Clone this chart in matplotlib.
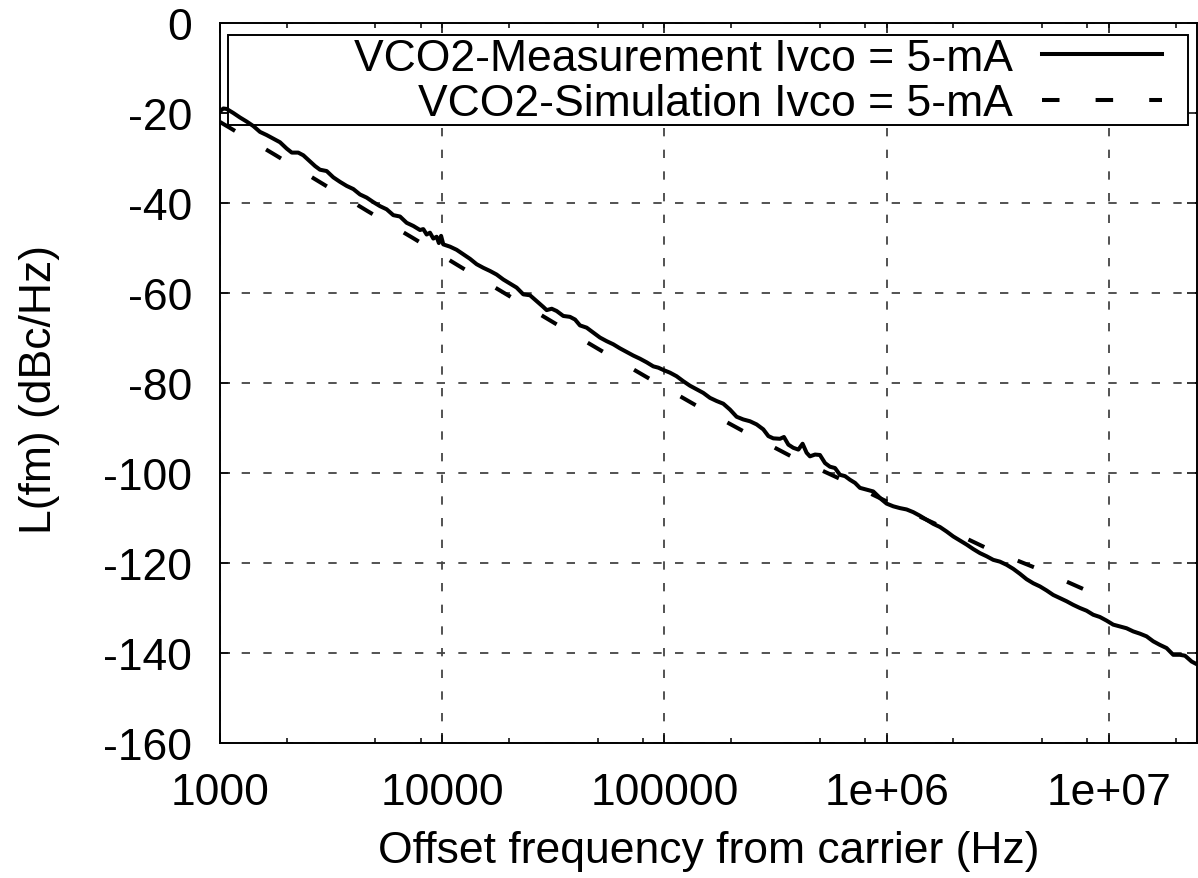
import numpy as np
import matplotlib.pyplot as plt
from matplotlib.ticker import FixedLocator, NullFormatter
from matplotlib.patches import Rectangle

plt.rcParams['font.family'] = ['Liberation Sans', 'DejaVu Sans']
plt.rcParams['axes.unicode_minus'] = False
plt.rcParams['lines.scale_dashes'] = False

# measured phase noise, offset given as log10(Hz)
meas_logf = [3.000, 3.015, 3.030, 3.060, 3.090, 3.120, 3.150, 3.180, 3.210, 3.240,
             3.270, 3.300, 3.323, 3.352, 3.375, 3.397, 3.428, 3.450, 3.480, 3.510,
             3.540, 3.570, 3.600, 3.630, 3.660, 3.690, 3.720, 3.750, 3.780, 3.810,
             3.840, 3.870, 3.900, 3.915, 3.930, 3.945, 3.960, 3.975, 3.985, 3.995,
             4.005, 4.035, 4.065, 4.095, 4.125, 4.155, 4.185, 4.215, 4.245, 4.275,
             4.305, 4.335, 4.365, 4.395, 4.425, 4.455, 4.470, 4.493, 4.515, 4.545,
             4.575, 4.598, 4.620, 4.650, 4.680, 4.710, 4.740, 4.770, 4.800, 4.830,
             4.860, 4.890, 4.920, 4.950, 4.973, 4.995, 5.025, 5.055, 5.085, 5.115,
             5.145, 5.175, 5.205, 5.235, 5.265, 5.295, 5.325, 5.355, 5.385, 5.415,
             5.445, 5.468, 5.490, 5.520, 5.538, 5.558, 5.580, 5.603, 5.622, 5.640,
             5.655, 5.678, 5.700, 5.723, 5.745, 5.768, 5.790, 5.813, 5.835, 5.858,
             5.880, 5.910, 5.940, 5.963, 5.978, 6.000, 6.030, 6.060, 6.090, 6.120,
             6.150, 6.180, 6.210, 6.240, 6.270, 6.300, 6.330, 6.360, 6.390, 6.420,
             6.450, 6.480, 6.510, 6.540, 6.570, 6.600, 6.630, 6.660, 6.690, 6.720,
             6.750, 6.780, 6.810, 6.840, 6.870, 6.900, 6.930, 6.960, 6.990, 7.020,
             7.050, 7.080, 7.110, 7.140, 7.170, 7.200, 7.230, 7.260, 7.290, 7.320,
             7.343, 7.373, 7.400]
meas_db = [-19.6, -19.0, -19.1, -20.0, -21.0, -21.9, -22.9, -24.2, -24.9, -25.7,
           -26.5, -27.9, -28.8, -28.8, -29.4, -30.4, -31.8, -32.6, -32.9, -34.3,
           -35.3, -36.2, -36.9, -38.1, -38.8, -39.8, -40.7, -41.4, -42.7, -43.0,
           -44.4, -45.1, -46.0, -45.8, -47.0, -46.6, -47.9, -47.5, -48.9, -47.3,
           -49.2, -49.7, -50.4, -51.4, -52.4, -53.6, -54.4, -55.1, -55.9, -57.0,
           -57.9, -58.8, -60.3, -60.5, -61.8, -63.1, -63.8, -63.5, -64.0, -65.1,
           -65.3, -65.9, -67.2, -67.7, -68.8, -69.9, -70.7, -71.4, -72.3, -73.1,
           -73.9, -74.6, -75.4, -76.3, -76.6, -77.1, -77.7, -78.5, -79.6, -80.6,
           -81.4, -82.2, -83.3, -84.0, -84.6, -85.9, -87.5, -88.1, -88.5, -89.2,
           -90.3, -91.8, -92.3, -92.4, -92.0, -93.7, -94.4, -94.8, -93.5, -95.5,
           -96.3, -95.9, -96.0, -97.8, -98.6, -98.9, -100.4, -100.7, -101.5, -102.2,
           -103.3, -103.7, -104.1, -105.2, -105.9, -106.8, -107.4, -107.8, -108.1, -108.7,
           -109.5, -110.4, -111.3, -112.0, -113.0, -114.1, -115.0, -115.9, -116.9, -117.8,
           -118.5, -119.3, -119.7, -120.4, -121.3, -122.4, -123.6, -124.5, -125.2, -126.1,
           -127.1, -127.8, -128.5, -129.3, -130.0, -130.6, -131.5, -132.0, -132.8, -133.7,
           -134.1, -134.5, -135.2, -135.7, -136.3, -137.4, -138.2, -138.9, -140.4, -140.4,
           -140.6, -141.9, -142.6]

# simulated phase noise
sim_logf = [3.000, 3.041, 3.251, 3.461, 3.664, 3.869, 4.086, 4.296, 4.506, 4.715,
            4.924, 5.136, 5.351, 5.567, 5.786, 6.000, 6.220, 6.450, 6.676, 6.900, 7.000]
sim_db = [-22.0, -23.2, -29.4, -35.7, -41.8, -47.8, -54.3, -60.5, -66.7, -72.8,
          -78.8, -84.8, -90.6, -96.2, -101.2, -106.3, -111.3, -116.7, -121.2, -126.1, -128.1]

xticks = [1e3, 1e4, 1e5, 1e6, 1e7]
xtick_labels = ['1000', '10000', '100000', '1e+06', '1e+07']
xminor = [m * 10.0**e for e in range(3, 8) for m in (2, 5, 8)]
yticks = list(range(-160, 1, 20))

W, H = 1198, 879
fig = plt.figure(figsize=(W / 100, H / 100), dpi=100)
L, R, T, B = 220, 1197, 24, 744
ax = fig.add_axes([L / W, 1 - B / H, (R - L) / W, (B - T) / H])

ax.plot(10 ** np.array(meas_logf), meas_db, color='black', lw=2.9,
        label='VCO2-Measurement Ivco = 5-mA')
ax.plot(10 ** np.array(sim_logf), sim_db, color='black', lw=2.9, dashes=(12.6, 26.0),
        label='VCO2-Simulation Ivco = 5-mA')

ax.set_xscale('log')
ax.set_xlim(1e3, 10 ** 7.397)
ax.set_ylim(-160, 0)
ax.xaxis.set_major_locator(FixedLocator(xticks))
ax.set_xticklabels(xtick_labels)
ax.xaxis.set_minor_locator(FixedLocator(xminor))
ax.xaxis.set_minor_formatter(NullFormatter())
ax.set_yticks(yticks)
ax.set_yticklabels([str(v) for v in yticks])

ax.tick_params(which='both', direction='in', top=True, right=True, width=1.1, colors='black')
ax.tick_params(which='major', length=7.2, labelsize=32)
ax.tick_params(which='minor', length=3.8)
ax.tick_params(axis='x', which='major', pad=21)
ax.tick_params(axis='y', which='major', pad=20)
for s in ax.spines.values():
    s.set_linewidth(1.4)

ax.grid(True, which='major', color='#444444', lw=1.3, linestyle=(0, (6.0, 9.6)))

ax.set_xlabel('Offset frequency from carrier (Hz)', fontsize=32, va='center')
ax.xaxis.set_label_coords(0.5, (B - 852) / (B - T))
ax.set_ylabel('L(fm) (dBc/Hz)', fontsize=32, va='center')
ax.yaxis.set_label_coords((40 - L) / (R - L), (B - 390) / (B - T))

# key box, opaque over the grid but under the curves
ax.add_patch(Rectangle((228 / W, 1 - 126 / H), 960 / W, 90 / H, transform=fig.transFigure,
                       facecolor='white', edgecolor='black', lw=1.4, zorder=1.8, clip_on=False))
ax.legend(loc='upper right', bbox_to_anchor=(1162 / W, 1 - 39 / H), bbox_transform=fig.transFigure,
          frameon=False, markerfirst=False, fontsize=32, handlelength=120 / 44.4,
          handletextpad=29 / 44.4, labelspacing=0.1, borderpad=0, borderaxespad=0)

fig.savefig('out.png', dpi=100)
